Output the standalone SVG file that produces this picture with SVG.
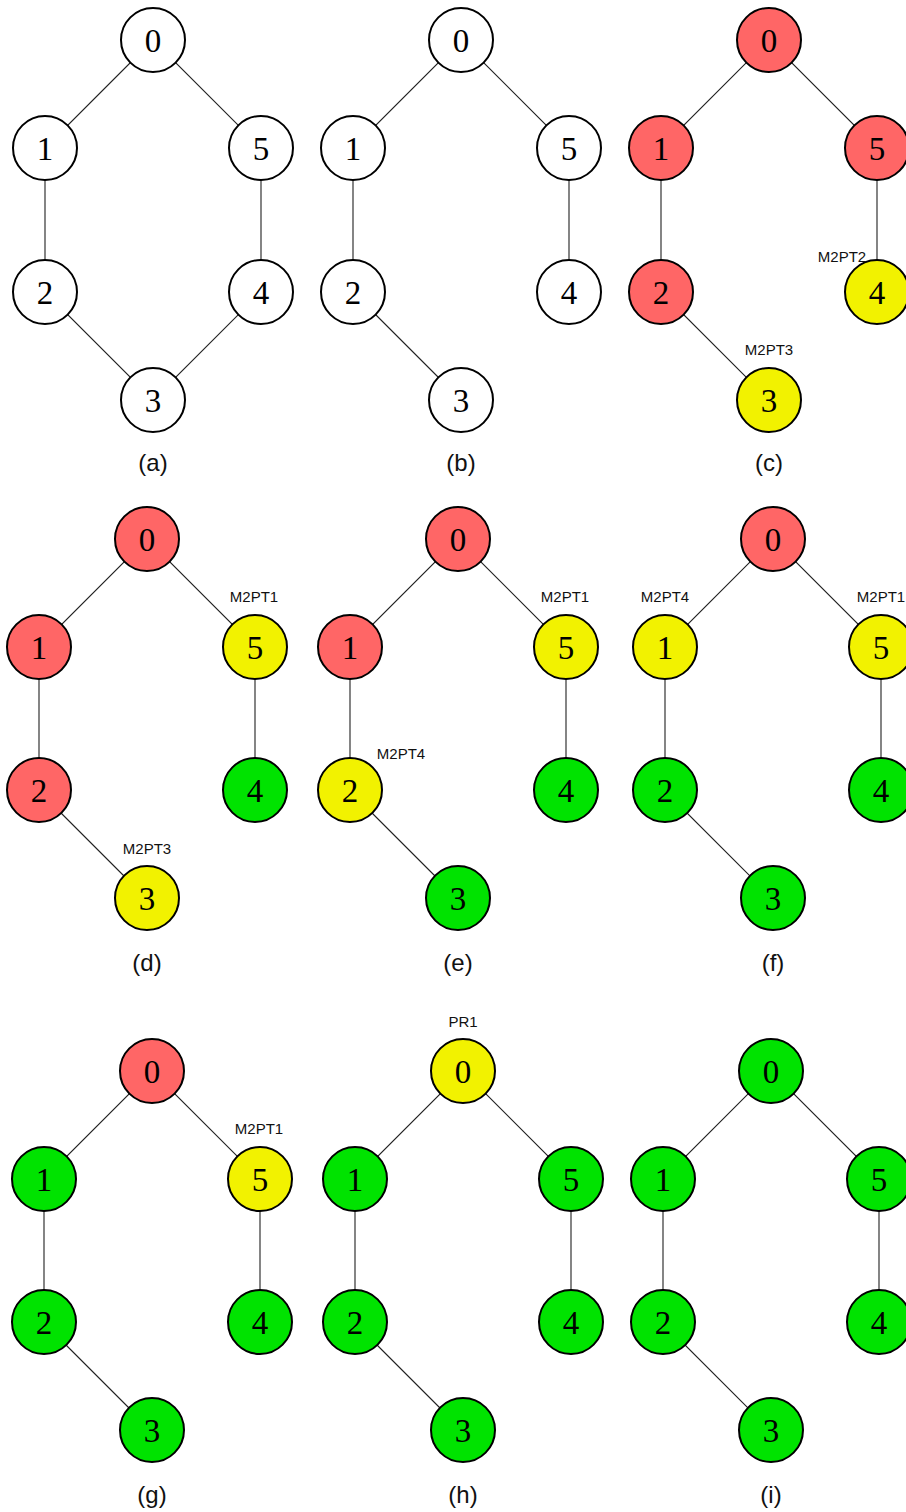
<svg xmlns="http://www.w3.org/2000/svg" width="906" height="1512" viewBox="0 0 906 1512">
<style>
.bg{fill:#ffffff}
.e{stroke:#222;stroke-width:1.1;fill:none}
.n circle{stroke:#000;stroke-width:2}
.w{fill:#ffffff}
.r{fill:#ff6666}
.y{fill:#f2f200}
.g{fill:#00e300}
.d{font-family:"Liberation Serif","DejaVu Serif",serif;font-size:33px;text-anchor:middle;fill:#000}
.t{font-family:"Liberation Sans",Arial,sans-serif;font-size:15px;text-anchor:middle;fill:#111}
.c{font-family:"Liberation Sans",Arial,sans-serif;font-size:24px;text-anchor:middle;fill:#111}
</style>
<rect class="bg" x="0" y="0" width="906" height="1512"/>
<defs>
<path id="full" d="M0,0L-108,108L-108,252L0,360L108,252L108,108Z"/>
<path id="open" d="M-108,252L-108,108L0,0L108,108L108,252M-108,252L0,360"/>
</defs>
<g id="connectors">
<use href="#full" class="e" transform="translate(153,40)"/>
<use href="#open" class="e" transform="translate(461,40)"/>
<use href="#open" class="e" transform="translate(769,40)"/>
<use href="#open" class="e" transform="translate(147,539)"/>
<use href="#open" class="e" transform="translate(458,539)"/>
<use href="#open" class="e" transform="translate(773,539)"/>
<use href="#open" class="e" transform="translate(152,1071)"/>
<use href="#open" class="e" transform="translate(463,1071)"/>
<use href="#open" class="e" transform="translate(771,1071)"/>
</g>
<!-- panel a -->
<g id="panel-a" transform="translate(153,40)">
<g id="a0" class="n"><circle class="w" cx="0" cy="0" r="32"/><text class="d" x="0" y="12">0</text></g>
<g id="a1" class="n"><circle class="w" cx="-108" cy="108" r="32"/><text class="d" x="-108" y="120">1</text></g>
<g id="a5" class="n"><circle class="w" cx="108" cy="108" r="32"/><text class="d" x="108" y="120">5</text></g>
<g id="a2" class="n"><circle class="w" cx="-108" cy="252" r="32"/><text class="d" x="-108" y="264">2</text></g>
<g id="a4" class="n"><circle class="w" cx="108" cy="252" r="32"/><text class="d" x="108" y="264">4</text></g>
<g id="a3" class="n"><circle class="w" cx="0" cy="360" r="32"/><text class="d" x="0" y="372">3</text></g>
<text class="c" x="0" y="431">(a)</text>
</g>
<!-- panel b -->
<g id="panel-b" transform="translate(461,40)">
<g id="b0" class="n"><circle class="w" cx="0" cy="0" r="32"/><text class="d" x="0" y="12">0</text></g>
<g id="b1" class="n"><circle class="w" cx="-108" cy="108" r="32"/><text class="d" x="-108" y="120">1</text></g>
<g id="b5" class="n"><circle class="w" cx="108" cy="108" r="32"/><text class="d" x="108" y="120">5</text></g>
<g id="b2" class="n"><circle class="w" cx="-108" cy="252" r="32"/><text class="d" x="-108" y="264">2</text></g>
<g id="b4" class="n"><circle class="w" cx="108" cy="252" r="32"/><text class="d" x="108" y="264">4</text></g>
<g id="b3" class="n"><circle class="w" cx="0" cy="360" r="32"/><text class="d" x="0" y="372">3</text></g>
<text class="c" x="0" y="431">(b)</text>
</g>
<!-- panel c -->
<g id="panel-c" transform="translate(769,40)">
<g id="c0" class="n"><circle class="r" cx="0" cy="0" r="32"/><text class="d" x="0" y="12">0</text></g>
<g id="c1" class="n"><circle class="r" cx="-108" cy="108" r="32"/><text class="d" x="-108" y="120">1</text></g>
<g id="c5" class="n"><circle class="r" cx="108" cy="108" r="32"/><text class="d" x="108" y="120">5</text></g>
<g id="c2" class="n"><circle class="r" cx="-108" cy="252" r="32"/><text class="d" x="-108" y="264">2</text></g>
<g id="c4" class="n"><circle class="y" cx="108" cy="252" r="32"/><text class="d" x="108" y="264">4</text></g>
<g id="c3" class="n"><circle class="y" cx="0" cy="360" r="32"/><text class="d" x="0" y="372">3</text></g>
<text class="t" x="0" y="315">M2PT3</text>
<text class="t" x="73" y="222">M2PT2</text>
<text class="c" x="0" y="431">(c)</text>
</g>
<!-- panel d -->
<g id="panel-d" transform="translate(147,539)">
<g id="d0" class="n"><circle class="r" cx="0" cy="0" r="32"/><text class="d" x="0" y="12">0</text></g>
<g id="d1" class="n"><circle class="r" cx="-108" cy="108" r="32"/><text class="d" x="-108" y="120">1</text></g>
<g id="d5" class="n"><circle class="y" cx="108" cy="108" r="32"/><text class="d" x="108" y="120">5</text></g>
<g id="d2" class="n"><circle class="r" cx="-108" cy="251" r="32"/><text class="d" x="-108" y="263">2</text></g>
<g id="d4" class="n"><circle class="g" cx="108" cy="251" r="32"/><text class="d" x="108" y="263">4</text></g>
<g id="d3" class="n"><circle class="y" cx="0" cy="359" r="32"/><text class="d" x="0" y="371">3</text></g>
<text class="t" x="107" y="63">M2PT1</text>
<text class="t" x="0" y="315">M2PT3</text>
<text class="c" x="0" y="432">(d)</text>
</g>
<!-- panel e -->
<g id="panel-e" transform="translate(458,539)">
<g id="e0" class="n"><circle class="r" cx="0" cy="0" r="32"/><text class="d" x="0" y="12">0</text></g>
<g id="e1" class="n"><circle class="r" cx="-108" cy="108" r="32"/><text class="d" x="-108" y="120">1</text></g>
<g id="e5" class="n"><circle class="y" cx="108" cy="108" r="32"/><text class="d" x="108" y="120">5</text></g>
<g id="e2" class="n"><circle class="y" cx="-108" cy="251" r="32"/><text class="d" x="-108" y="263">2</text></g>
<g id="e4" class="n"><circle class="g" cx="108" cy="251" r="32"/><text class="d" x="108" y="263">4</text></g>
<g id="e3" class="n"><circle class="g" cx="0" cy="359" r="32"/><text class="d" x="0" y="371">3</text></g>
<text class="t" x="107" y="63">M2PT1</text>
<text class="t" x="-57" y="220">M2PT4</text>
<text class="c" x="0" y="432">(e)</text>
</g>
<!-- panel f -->
<g id="panel-f" transform="translate(773,539)">
<g id="f0" class="n"><circle class="r" cx="0" cy="0" r="32"/><text class="d" x="0" y="12">0</text></g>
<g id="f1" class="n"><circle class="y" cx="-108" cy="108" r="32"/><text class="d" x="-108" y="120">1</text></g>
<g id="f5" class="n"><circle class="y" cx="108" cy="108" r="32"/><text class="d" x="108" y="120">5</text></g>
<g id="f2" class="n"><circle class="g" cx="-108" cy="251" r="32"/><text class="d" x="-108" y="263">2</text></g>
<g id="f4" class="n"><circle class="g" cx="108" cy="251" r="32"/><text class="d" x="108" y="263">4</text></g>
<g id="f3" class="n"><circle class="g" cx="0" cy="359" r="32"/><text class="d" x="0" y="371">3</text></g>
<text class="t" x="-108" y="63">M2PT4</text>
<text class="t" x="108" y="63">M2PT1</text>
<text class="c" x="0" y="432">(f)</text>
</g>
<!-- panel g -->
<g id="panel-g" transform="translate(152,1071)">
<g id="g0" class="n"><circle class="r" cx="0" cy="0" r="32"/><text class="d" x="0" y="12">0</text></g>
<g id="g1" class="n"><circle class="g" cx="-108" cy="108" r="32"/><text class="d" x="-108" y="120">1</text></g>
<g id="g5" class="n"><circle class="y" cx="108" cy="108" r="32"/><text class="d" x="108" y="120">5</text></g>
<g id="g2" class="n"><circle class="g" cx="-108" cy="251" r="32"/><text class="d" x="-108" y="263">2</text></g>
<g id="g4" class="n"><circle class="g" cx="108" cy="251" r="32"/><text class="d" x="108" y="263">4</text></g>
<g id="g3" class="n"><circle class="g" cx="0" cy="359" r="32"/><text class="d" x="0" y="371">3</text></g>
<text class="t" x="107" y="63">M2PT1</text>
<text class="c" x="0" y="432">(g)</text>
</g>
<!-- panel h -->
<g id="panel-h" transform="translate(463,1071)">
<g id="h0" class="n"><circle class="y" cx="0" cy="0" r="32"/><text class="d" x="0" y="12">0</text></g>
<g id="h1" class="n"><circle class="g" cx="-108" cy="108" r="32"/><text class="d" x="-108" y="120">1</text></g>
<g id="h5" class="n"><circle class="g" cx="108" cy="108" r="32"/><text class="d" x="108" y="120">5</text></g>
<g id="h2" class="n"><circle class="g" cx="-108" cy="251" r="32"/><text class="d" x="-108" y="263">2</text></g>
<g id="h4" class="n"><circle class="g" cx="108" cy="251" r="32"/><text class="d" x="108" y="263">4</text></g>
<g id="h3" class="n"><circle class="g" cx="0" cy="359" r="32"/><text class="d" x="0" y="371">3</text></g>
<text class="t" x="0" y="-44">PR1</text>
<text class="c" x="0" y="432">(h)</text>
</g>
<!-- panel i -->
<g id="panel-i" transform="translate(771,1071)">
<g id="i0" class="n"><circle class="g" cx="0" cy="0" r="32"/><text class="d" x="0" y="12">0</text></g>
<g id="i1" class="n"><circle class="g" cx="-108" cy="108" r="32"/><text class="d" x="-108" y="120">1</text></g>
<g id="i5" class="n"><circle class="g" cx="108" cy="108" r="32"/><text class="d" x="108" y="120">5</text></g>
<g id="i2" class="n"><circle class="g" cx="-108" cy="251" r="32"/><text class="d" x="-108" y="263">2</text></g>
<g id="i4" class="n"><circle class="g" cx="108" cy="251" r="32"/><text class="d" x="108" y="263">4</text></g>
<g id="i3" class="n"><circle class="g" cx="0" cy="359" r="32"/><text class="d" x="0" y="371">3</text></g>
<text class="c" x="0" y="432">(i)</text>
</g>
</svg>
